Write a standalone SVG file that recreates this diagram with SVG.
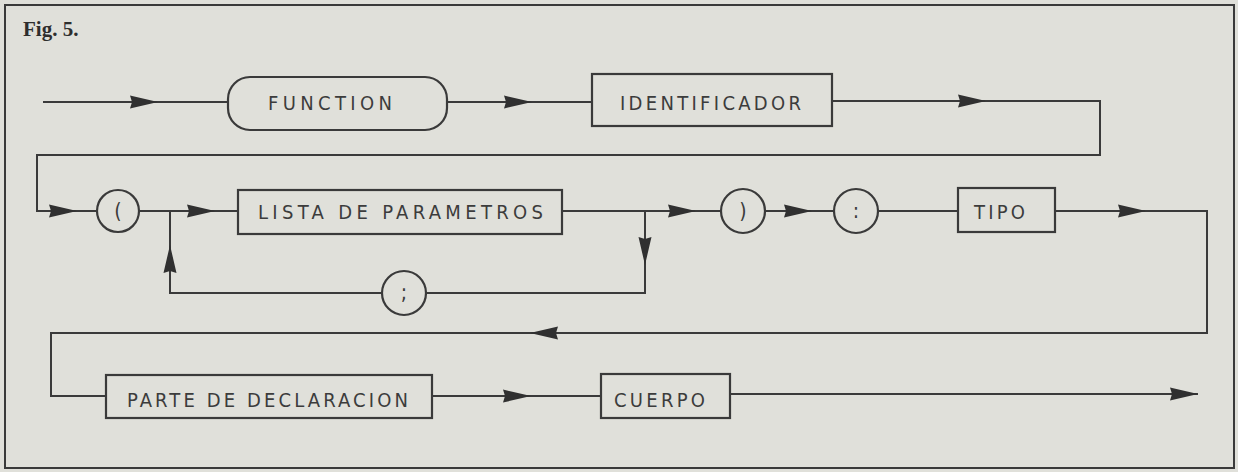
<svg xmlns="http://www.w3.org/2000/svg" width="1238" height="472" viewBox="0 0 1238 472">
<style>
.ln{fill:none;stroke:#3a3a3a;stroke-width:2}
.bx{fill:none;stroke:#3a3a3a;stroke-width:2.2}
.ah{fill:#303030}
.t{font-family:"DejaVu Sans Condensed","DejaVu Sans","Liberation Sans",sans-serif;font-size:20px;fill:#3c3c3c}
.c{font-family:"DejaVu Sans Condensed","DejaVu Sans","Liberation Sans",sans-serif;font-size:21px;fill:#3c3c3c;text-anchor:middle}
.fig{font-family:"Liberation Serif",serif;font-weight:bold;font-size:21px;fill:#2e2e2e}
</style>
<defs>
<path id="arr" d="M0,0 L-28,-6.5 L-26,0 L-28,6.5 Z"/>
</defs>
<rect x="0" y="0" width="1238" height="472" fill="#e0e0da"/>
<rect x="5" y="5" width="1229" height="463" fill="none" stroke="#3a3a3a" stroke-width="2"/>
<text class="fig" x="23" y="36">Fig. 5.</text>

<g id="connectors">
<path class="ln" d="M43,102 H228"/>
<path class="ln" d="M447,102 H592"/>
<path class="ln" d="M832,101 H1100 V155 H37 V211 H97"/>
<path class="ln" d="M139,211 H238"/>
<path class="ln" d="M562,211 H720"/>
<path class="ln" d="M645,211 V293 H426"/>
<path class="ln" d="M382,293 H170 V211"/>
<path class="ln" d="M765,211 H834"/>
<path class="ln" d="M878,211 H958"/>
<path class="ln" d="M1055,211 H1207 V333 H51 V396 H106"/>
<path class="ln" d="M432,396 H601"/>
<path class="ln" d="M730,394 H1198"/>
<use href="#arr" class="ah" transform="translate(158,102)"/>
<use href="#arr" class="ah" transform="translate(532,102)"/>
<use href="#arr" class="ah" transform="translate(986,101)"/>
<use href="#arr" class="ah" transform="translate(77,211)"/>
<use href="#arr" class="ah" transform="translate(215,211)"/>
<use href="#arr" class="ah" transform="translate(696,211)"/>
<use href="#arr" class="ah" transform="translate(645,265) rotate(90)"/>
<use href="#arr" class="ah" transform="translate(170,245) rotate(-90)"/>
<use href="#arr" class="ah" transform="translate(812,211)"/>
<use href="#arr" class="ah" transform="translate(1146,211)"/>
<use href="#arr" class="ah" transform="translate(530,333) rotate(180)"/>
<use href="#arr" class="ah" transform="translate(531,396)"/>
<use href="#arr" class="ah" transform="translate(1198,394)"/>
</g>

<g id="function">
<rect class="bx" x="228" y="77" width="219" height="53" rx="22" ry="22"/>
<text class="t" x="268" y="110" textLength="124" lengthAdjust="spacing">FUNCTION</text>
</g>
<g id="identificador">
<rect class="bx" x="592" y="74" width="240" height="52"/>
<text class="t" x="620" y="110" textLength="181" lengthAdjust="spacing">IDENTIFICADOR</text>
</g>
<g id="paren-open">
<circle class="bx" cx="118" cy="211" r="21"/>
<text class="c" x="118" y="218">(</text>
</g>
<g id="lista">
<rect class="bx" x="238" y="190" width="324" height="44"/>
<text class="t" x="258" y="219" textLength="285" lengthAdjust="spacing">LISTA DE PARAMETROS</text>
</g>
<g id="semicolon">
<circle class="bx" cx="404" cy="293" r="22"/>
<text class="c" x="404" y="300">;</text>
</g>
<g id="paren-close">
<circle class="bx" cx="743" cy="211" r="22"/>
<text class="c" x="743" y="218">)</text>
</g>
<g id="colon">
<circle class="bx" cx="856" cy="211" r="22"/>
<text class="c" x="856" y="218">:</text>
</g>
<g id="tipo">
<rect class="bx" x="958" y="188" width="97" height="44"/>
<text class="t" x="974" y="219" textLength="51" lengthAdjust="spacing">TIPO</text>
</g>
<g id="parte">
<rect class="bx" x="106" y="375" width="326" height="43"/>
<text class="t" x="127" y="407" textLength="281" lengthAdjust="spacing">PARTE DE DECLARACION</text>
</g>
<g id="cuerpo">
<rect class="bx" x="601" y="374" width="129" height="44"/>
<text class="t" x="614" y="407" textLength="91" lengthAdjust="spacing">CUERPO</text>
</g>
</svg>
